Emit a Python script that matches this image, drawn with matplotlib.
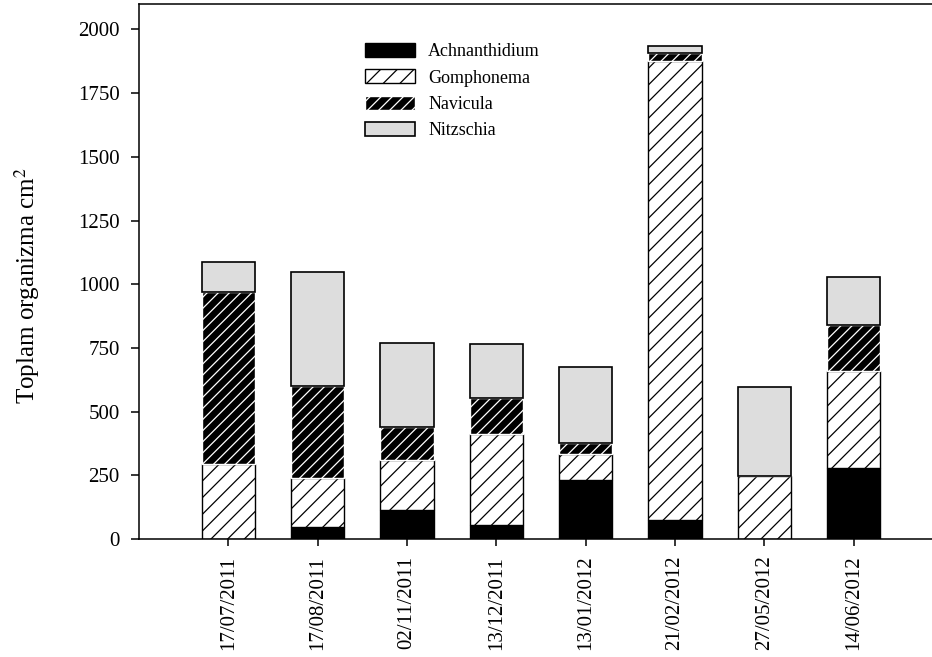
import matplotlib
matplotlib.use("Agg")
import matplotlib.pyplot as plt
import numpy as np

dates = ["17/07/2011", "17/08/2011", "02/11/2011", "13/12/2011",
         "13/01/2012", "21/02/2012", "27/05/2012", "14/06/2012"]
achnanthidium = [0, 48, 114, 54, 231, 75, 0, 277]
gomphonema = [293, 192, 198, 360, 101, 1801, 248, 382]
navicula = [677, 360, 128, 140, 43, 31, 0, 180]
nitzschia = [117, 447, 331, 213, 301, 29, 349, 190]
series_names = ["Achnanthidium", "Gomphonema", "Navicula", "Nitzschia"]
y_ticks = [0, 250, 500, 750, 1000, 1250, 1500, 1750, 2000]

plt.rcParams['font.family'] = ['Liberation Serif', 'DejaVu Serif']
plt.rcParams['mathtext.fontset'] = 'stix'
plt.rcParams['hatch.linewidth'] = 0.9

W, H = 932, 657
fig = plt.figure(figsize=(W / 100, H / 100), dpi=100)
ax_left, ax_right, ax_top, ax_bottom = 139, 943, 4, 539
ax = fig.add_axes([ax_left / W, 1 - ax_bottom / H,
                   (ax_right - ax_left) / W, (ax_bottom - ax_top) / H])

x = np.arange(len(dates))
width = 0.6
a = np.array(achnanthidium, dtype=float)
g = np.array(gomphonema, dtype=float)
n = np.array(navicula, dtype=float)
z = np.array(nitzschia, dtype=float)

lw = 1.0
ax.bar(x, a, width, color='black', edgecolor='black', linewidth=lw,
       label=series_names[0])
ax.bar(x, g, width, bottom=a, color='white', edgecolor='black',
       hatch='//', linewidth=lw, label=series_names[1])
ax.bar(x, n, width, bottom=a + g, color='black', edgecolor='white',
       hatch='///', linewidth=lw, label=series_names[2])
ax.bar(x, z, width, bottom=a + g + n, color='#dddddd', edgecolor='black',
       linewidth=1.2, label=series_names[3])

ax.set_xlim(-1, 8)
ax.set_ylim(0, 2100)
ax.set_yticks(y_ticks)
ax.set_yticklabels([str(t) for t in y_ticks], fontsize=15)
ax.set_xticks(x)
ax.set_xticklabels(dates, rotation=90, fontsize=15)
ax.tick_params(axis='y', direction='out', length=6, width=1.1, pad=8)
ax.tick_params(axis='x', direction='out', length=5, width=1.1, pad=7)
for s in ax.spines.values():
    s.set_linewidth(1.1)

ax.set_ylabel('Toplam organizma cm$^{2}$', fontsize=18)
ax.yaxis.set_label_coords((42 - ax_left) / (ax_right - ax_left), 0.474)

leg = ax.legend(loc='upper left', bbox_to_anchor=(365 / W, 1 - 43 / H),
                bbox_transform=fig.transFigure, frameon=False, fontsize=13,
                handlelength=2.75, handleheight=0.78, labelspacing=0.52,
                handletextpad=0.75, borderpad=0, borderaxespad=0)

fig.savefig('out.png', dpi=100)
